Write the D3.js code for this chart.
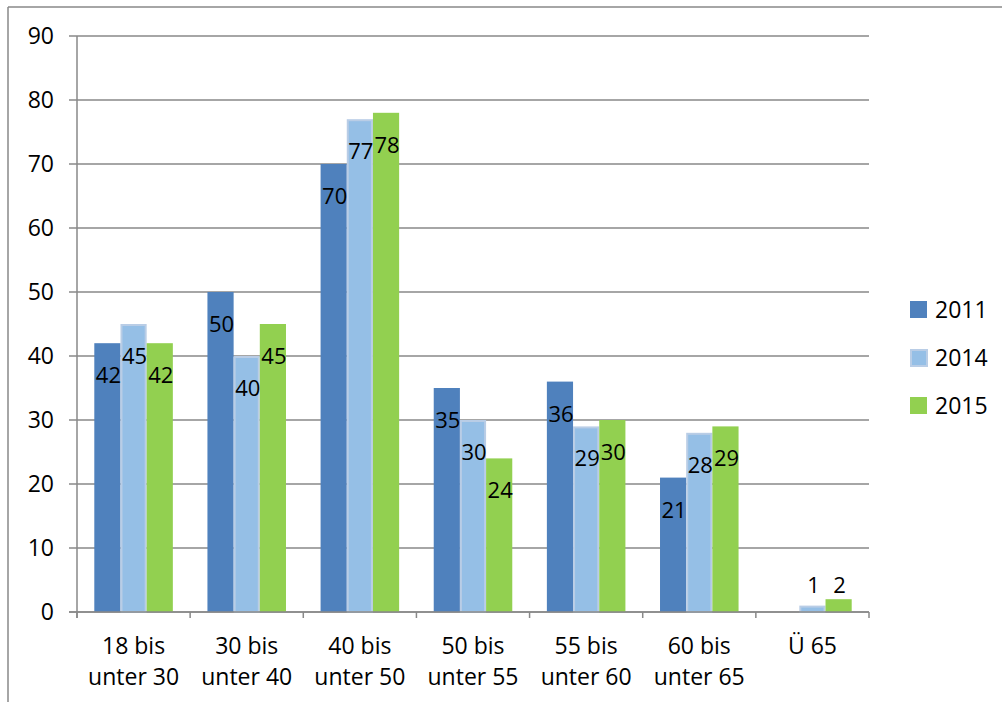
<!DOCTYPE html>
<html><head><meta charset="utf-8">
<script src="https://cdn.jsdelivr.net/npm/d3@7"></script>
<style>
html,body{margin:0;padding:0;background:#fff;}
svg{display:block;font-family:"Open Sans",sans-serif;}
</style></head>
<body><svg id="c" width="1002" height="702"></svg>
<script>
const categories = [["18 bis","unter 30"],["30 bis","unter 40"],["40 bis","unter 50"],["50 bis","unter 55"],["55 bis","unter 60"],["60 bis","unter 65"],["Ü 65"]];
const seriesNames = ["2011","2014","2015"];
const values2011 = [42,50,70,35,36,21,null];
const values2014 = [45,40,77,30,29,28,1];
const values2015 = [42,45,78,24,30,29,2];
const yTicks = [0,10,20,30,40,50,60,70,80,90];

const series = [values2011, values2014, values2015];
const colors = ["#4F81BD","#95BFE6","#92D050"];
const strokes = ["none","#B9CDE6","none"];

const svg = d3.select("#c");
const L = 77, R = 869, T = 36, B = 612;

// outer border (left & top)
svg.append("line").attr("x1",8).attr("x2",8).attr("y1",7).attr("y2",702).attr("stroke","#888").attr("stroke-width",1.5);
svg.append("line").attr("x1",8).attr("x2",1002).attr("y1",7).attr("y2",7).attr("stroke","#888").attr("stroke-width",1.5);

const y = d3.scaleLinear().domain([0,90]).range([B,T]);
const catIdx = categories.map((d,i)=>i);
const x0 = d3.scaleBand().domain(catIdx).range([L,R]).padding(0);
const x1 = d3.scaleBand().domain(seriesNames).range([17.3, x0.bandwidth()-17.3]).padding(0);

// gridlines
svg.append("g").selectAll("line").data(yTicks).join("line")
  .attr("x1",69).attr("x2",R).attr("y1",d=>y(d)).attr("y2",d=>y(d))
  .attr("stroke","#888").attr("stroke-width",1.5);

// y labels
svg.append("g").selectAll("text").data(yTicks).join("text")
  .attr("x",54).attr("y",d=>y(d)).attr("dy","0.36em").attr("text-anchor","end")
  .attr("font-size",23).attr("fill","#000").text(d=>d);

// bars
const barData = [];
series.forEach((vals,si)=>vals.forEach((v,ci)=>{ if(v!=null) barData.push({si,ci,v}); }));
svg.append("g").selectAll("rect").data(barData).join("rect")
  .attr("x",d=>x0(d.ci)+x1(seriesNames[d.si]) + (d.si===1?1:0))
  .attr("width",d=>x1.bandwidth() - (d.si===1?2:0))
  .attr("y",d=>y(d.v)+(d.si===1?1:0))
  .attr("height",d=>B-y(d.v)-(d.si===1?1:0))
  .attr("fill",d=>colors[d.si])
  .attr("stroke",d=>strokes[d.si]).attr("stroke-width",2);

// axes lines
svg.append("line").attr("x1",L).attr("x2",L).attr("y1",T).attr("y2",618).attr("stroke","#888").attr("stroke-width",1.5);
svg.append("line").attr("x1",69).attr("x2",R).attr("y1",B).attr("y2",B).attr("stroke","#888").attr("stroke-width",1.5);
svg.append("g").selectAll("line").data(d3.range(categories.length+1)).join("line")
  .attr("x1",d=>L+d*x0.step()).attr("x2",d=>L+d*x0.step()).attr("y1",B).attr("y2",618)
  .attr("stroke","#888").attr("stroke-width",1.5);

// data labels
svg.append("g").selectAll("text").data(barData).join("text")
  .attr("x",d=>x0(d.ci)+x1(seriesNames[d.si])+x1.bandwidth()/2+1)
  .attr("y",d=>{ let ly=y(d.v)+32; if(ly>B-12) ly=B-27; return ly; })
  .attr("dy","0.36em").attr("text-anchor","middle").attr("font-size",22).attr("fill","#000")
  .text(d=>d.v);

// category labels
const cg = svg.append("g").selectAll("text").data(categories.map((c,i)=>({c,i}))).join("text")
  .attr("x",d=>x0(d.i)+x0.bandwidth()/2).attr("y",646).attr("dy","0.36em")
  .attr("text-anchor","middle").attr("font-size",23).attr("fill","#000");
cg.selectAll("tspan").data(d=>d.c.map((t,j)=>({t,j,x:x0(d.i)+x0.bandwidth()/2}))).join("tspan")
  .attr("x",d=>d.x).attr("dy",d=>d.j===0?"0.36em":"31px").text(d=>d.t);

// legend
const lg = svg.append("g").selectAll("g").data(seriesNames).join("g")
  .attr("transform",(d,i)=>`translate(910,${301+i*48})`);
lg.append("rect").attr("x",(d,i)=>i===1?1:0).attr("y",(d,i)=>i===1?1:0)
  .attr("width",(d,i)=>i===1?16:17).attr("height",(d,i)=>i===1?16:17)
  .attr("fill",(d,i)=>colors[i]).attr("stroke",(d,i)=>strokes[i]).attr("stroke-width",2);
lg.append("text").attr("x",25).attr("y",9).attr("dy","0.36em").attr("font-size",23).attr("fill","#000").text(d=>d);
</script></body></html>
